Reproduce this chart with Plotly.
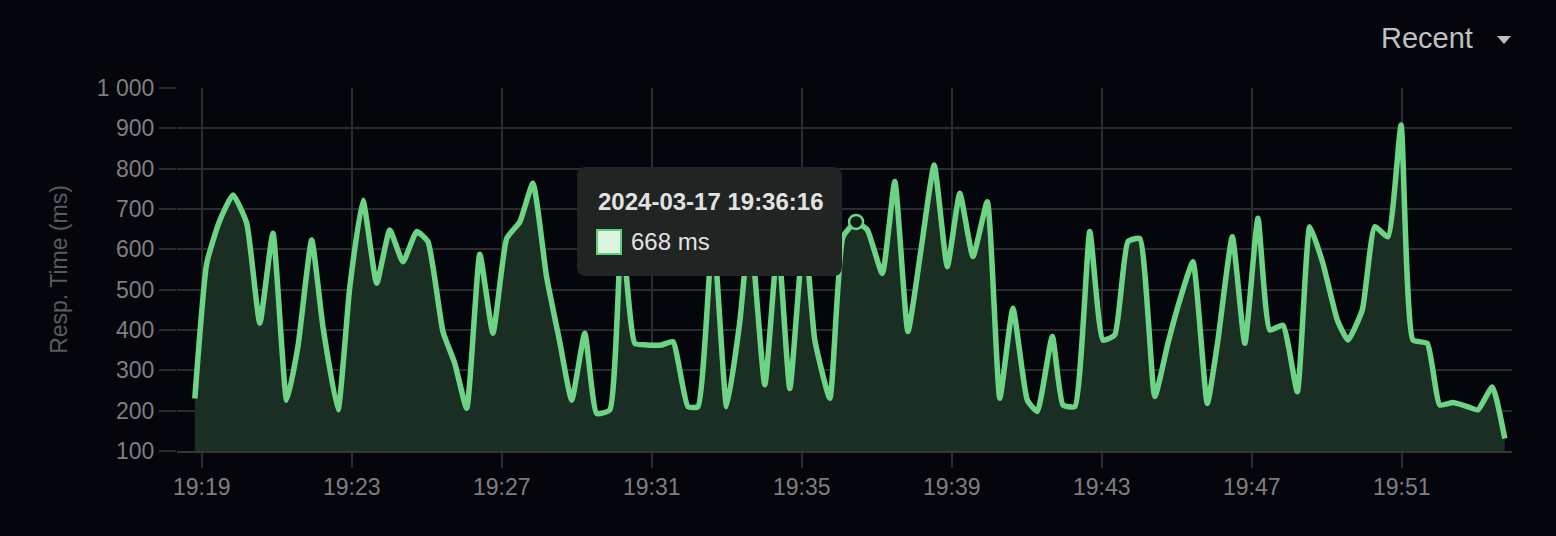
import plotly.graph_objects as go

DAY = "2024-03-17 "
times = [
    "19:18:49", "19:19:08", "19:19:28", "19:19:50", "19:20:12", "19:20:33", "19:20:54", "19:21:16",
    "19:21:34", "19:21:56", "19:22:14", "19:22:38", "19:22:57", "19:23:18", "19:23:40", "19:24:01",
    "19:24:22", "19:24:44", "19:25:02", "19:25:26", "19:25:45", "19:26:04", "19:26:25", "19:26:46",
    "19:27:08", "19:27:29", "19:27:50", "19:28:12", "19:28:33", "19:28:52", "19:29:13", "19:29:32",
    "19:29:53", "19:30:12", "19:30:33", "19:30:52", "19:31:16", "19:31:34", "19:31:58", "19:32:14",
    "19:32:38", "19:33:00", "19:33:21", "19:33:37", "19:34:01", "19:34:22", "19:34:41", "19:35:04",
    "19:35:21", "19:35:45", "19:36:06", "19:36:27", "19:36:45", "19:37:09", "19:37:29", "19:37:50",
    "19:38:11", "19:38:32", "19:38:53", "19:39:13", "19:39:34", "19:39:57", "19:40:17", "19:40:38",
    "19:41:01", "19:41:17", "19:41:41", "19:41:58", "19:42:17", "19:42:41", "19:43:02", "19:43:21",
    "19:43:42", "19:44:01", "19:44:25", "19:44:46", "19:45:05", "19:45:26", "19:45:49", "19:46:06",
    "19:46:29", "19:46:49", "19:47:10", "19:47:29", "19:47:50", "19:48:13", "19:48:33", "19:48:54",
    "19:49:17", "19:49:34", "19:49:57", "19:50:17", "19:50:38", "19:50:59", "19:51:18", "19:51:41",
    "19:52:01", "19:52:22", "19:52:45", "19:53:02", "19:53:25", "19:53:45",
]
resp_ms = [
    230, 565, 668, 735, 665, 417, 640, 226,
    359, 623, 408, 202, 507, 722, 516, 648,
    569, 644, 619, 396, 317, 206, 588, 392,
    627, 668, 764, 530, 370, 226, 392, 193,
    202, 650, 367, 363, 363, 371, 210, 210,
    650, 210, 420, 660, 264, 620, 255, 650,
    375, 231, 631, 668, 648, 540, 768, 396,
    600, 809, 557, 739, 582, 718, 231, 454,
    226, 198, 384, 214, 210, 644, 375, 388,
    619, 627, 235, 367, 474, 569, 218, 375,
    631, 367, 677, 400, 412, 247, 656, 565,
    425, 375, 450, 656, 631, 908, 375, 367,
    214, 220, 210, 202, 259, 131,
]
y_ticks = [100, 200, 300, 400, 500, 600, 700, 800, 900, 1000]
y_tick_labels = ["100", "200", "300", "400", "500", "600", "700", "800", "900", "1 000"]
x_ticks = ["19:19", "19:23", "19:27", "19:31", "19:35", "19:39", "19:43", "19:47", "19:51"]
x_range = ["19:18:20.5", "19:53:56.5"]

hover_index = 51
hover_label = "2024-03-17 19:36:16"
hover_value_text = "668 ms"

BG = "#05060c"
GRID = "#2a2c30"
LINE = "#6dd486"
FILL = "#1b2e24"
TICK_COLOR = "#7e7e80"
TITLE_COLOR = "#5b5b5e"
FONT = "Liberation Sans, Arial, Helvetica, sans-serif"

x_full = [DAY + t for t in times]

fig = go.Figure()
fig.add_trace(go.Scatter(
    x=x_full, y=resp_ms, mode="lines",
    line=dict(color=LINE, width=5.5, shape="spline", smoothing=0.45),
    fill="tozeroy", fillcolor=FILL,
    hoverinfo="skip", showlegend=False,
))
fig.add_trace(go.Scatter(
    x=[x_full[hover_index]], y=[resp_ms[hover_index]], mode="markers",
    marker=dict(size=14, color="#0e1a12", line=dict(color=LINE, width=2.5)),
    hoverinfo="skip", showlegend=False,
))

# plot-area pixel geometry (for overlay decorations only)
L, R, T, B = 177, 1512, 88, 451
W, H = R - L, B - T
def px(x):
    return (x - L) / W
def py(y):
    return (B - y) / H

# tooltip box with rounded corners
x0, x1, y0, y1, r = 577, 842, 167, 276, 9
path = (
    f"M {px(x0 + r)} {py(y0)} L {px(x1 - r)} {py(y0)} "
    f"Q {px(x1)} {py(y0)} {px(x1)} {py(y0 + r)} "
    f"L {px(x1)} {py(y1 - r)} Q {px(x1)} {py(y1)} {px(x1 - r)} {py(y1)} "
    f"L {px(x0 + r)} {py(y1)} Q {px(x0)} {py(y1)} {px(x0)} {py(y1 - r)} "
    f"L {px(x0)} {py(y0 + r)} Q {px(x0)} {py(y0)} {px(x0 + r)} {py(y0)} Z"
)
shapes = [
    dict(type="path", path=path, xref="paper", yref="paper",
         fillcolor="#202422", line=dict(width=0), layer="above"),
    dict(type="rect", xref="paper", yref="paper",
         x0=px(597), x1=px(621), y0=py(254), y1=py(230),
         fillcolor="#dcf5e3", line=dict(color="#5fcf7c", width=2), layer="above"),
    # dropdown caret
    dict(type="path", xref="paper", yref="paper",
         path=f"M {px(1497)} {py(36)} L {px(1511)} {py(36)} L {px(1504)} {py(44)} Z",
         fillcolor="#c0c0c2", line=dict(width=0)),
]

annotations = [
    dict(xref="paper", yref="paper", x=px(596), y=py(201), xanchor="left", yanchor="middle",
         text=f"<b>{hover_label}</b>", showarrow=False,
         font=dict(family=FONT, size=24, color="#e2e2e2")),
    dict(xref="paper", yref="paper", x=px(629), y=py(242), xanchor="left", yanchor="middle",
         text=hover_value_text, showarrow=False,
         font=dict(family=FONT, size=24, color="#e2e2e2")),
    dict(xref="paper", yref="paper", x=px(1427), y=py(38), xanchor="center", yanchor="middle",
         text="Recent", showarrow=False,
         font=dict(family=FONT, size=29, color="#c0c0c2")),
]

fig.update_layout(
    width=1556, height=536,
    paper_bgcolor=BG, plot_bgcolor=BG,
    margin=dict(l=L, r=1556 - R, t=T, b=536 - B),
    font=dict(family=FONT, color=TICK_COLOR, size=23),
    shapes=shapes, annotations=annotations,
    showlegend=False,
)
fig.update_xaxes(
    type="date", range=[DAY + x_range[0], DAY + x_range[1]],
    tickvals=[DAY + t for t in x_ticks], ticktext=x_ticks,
    showgrid=True, gridcolor=GRID, gridwidth=1.5,
    ticks="outside", ticklen=15, tickcolor=GRID, tickwidth=1.5,
    showline=True, linecolor="#34363a", linewidth=1.5,
    tickfont=dict(family=FONT, size=23, color=TICK_COLOR),
    zeroline=False,
)
fig.update_yaxes(
    range=[100, 1000], tickvals=y_ticks, ticktext=y_tick_labels,
    showgrid=True, gridcolor=GRID, gridwidth=1.5,
    ticks="outside", ticklen=17, tickcolor=GRID, tickwidth=1.5,
    tickfont=dict(family=FONT, size=23, color=TICK_COLOR),
    title=dict(text="Resp. Time (ms)", font=dict(family=FONT, size=23, color=TITLE_COLOR), standoff=22),
    zeroline=False, showline=False,
)

fig.write_html(
    "out.html",
    config={"displayModeBar": False},
    post_script="document.body.style.margin='0';document.body.style.background='#05060c';",
)
